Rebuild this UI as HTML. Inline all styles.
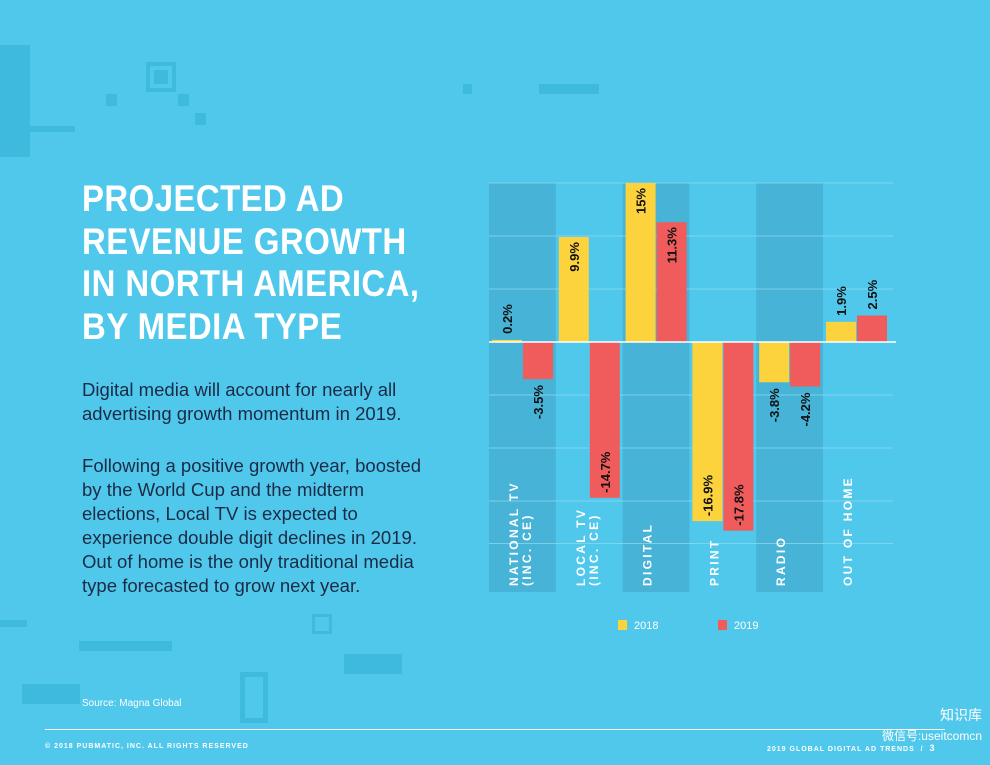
<!DOCTYPE html>
<html><head><meta charset="utf-8">
<style>
body{margin:0;width:990px;height:765px;overflow:hidden;background:#50c8ec;font-family:"Liberation Sans",sans-serif;position:relative}
.d{position:absolute;background:#3dbadd}
#title{position:absolute;left:82px;top:178px;color:#fff;font-weight:bold;font-size:37px;line-height:42.5px;letter-spacing:0.5px;transform:scaleX(0.89);transform-origin:left top;margin:0;white-space:nowrap}
.body{position:absolute;left:82px;color:#1b2b45;font-size:18px;line-height:24px;white-space:nowrap;transform:scaleX(1.03);transform-origin:left top}
</style></head><body>
<div class="d" style="left:0;top:45px;width:30px;height:112px"></div>
<div class="d" style="left:146px;top:62px;width:30px;height:30px;background:none;border:4px solid #3dbadd;box-sizing:border-box"></div>
<div class="d" style="left:154px;top:70px;width:14px;height:14px"></div>
<div class="d" style="left:30px;top:126px;width:45px;height:6px"></div>
<div class="d" style="left:106px;top:94px;width:11px;height:12px"></div>
<div class="d" style="left:178px;top:94px;width:11px;height:12px"></div>
<div class="d" style="left:195px;top:113px;width:11px;height:12px"></div>
<div class="d" style="left:463px;top:84px;width:9px;height:10px"></div>
<div class="d" style="left:539px;top:84px;width:60px;height:10px"></div>
<div class="d" style="left:0;top:620px;width:27px;height:7px"></div>
<div class="d" style="left:79px;top:641px;width:93px;height:10px"></div>
<div class="d" style="left:22px;top:684px;width:58px;height:20px"></div>
<div class="d" style="left:240px;top:672px;width:28px;height:51px;background:none;border:5px solid #3dbadd;box-sizing:border-box"></div>
<div class="d" style="left:344px;top:654px;width:58px;height:20px"></div>
<div class="d" style="left:312px;top:614px;width:20px;height:20px;background:none;border:3px solid #3dbadd;box-sizing:border-box"></div>

<h1 id="title">PROJECTED AD<br>REVENUE GROWTH<br>IN NORTH AMERICA,<br>BY MEDIA TYPE</h1>
<div class="body" style="top:378px">Digital media will account for nearly all<br>advertising growth momentum in 2019.</div>
<div class="body" style="top:454px">Following a positive growth year, boosted<br>by the World Cup and the midterm<br>elections, Local TV is expected to<br>experience double digit declines in 2019.<br>Out of home is the only traditional media<br>type forecasted to grow next year.</div>

<svg id="chart" style="position:absolute;left:0;top:0" width="990" height="765"></svg>

<div style="position:absolute;left:82px;top:698px;color:#fff;font-size:10px">Source: Magna Global</div>
<div style="position:absolute;left:45px;top:729px;width:900px;height:1px;background:#fff"></div>
<div style="position:absolute;left:45px;top:743px;color:#fff;font-size:7px;font-weight:bold;letter-spacing:1px">© 2018 PUBMATIC, INC. ALL RIGHTS RESERVED</div>
<div style="position:absolute;left:767px;top:743px;color:#fff;font-size:7px;font-weight:bold;letter-spacing:1px">2019 GLOBAL DIGITAL AD TRENDS &nbsp;/ &nbsp;<span style="font-size:9px">3</span></div>
<div style="position:absolute;left:876px;top:705px;color:#fff;font-size:14px;font-family:'Liberation Sans','Noto Sans CJK SC',sans-serif;text-align:right;width:106px;line-height:20px">知识库<br><span style="font-size:12px">微信号:useitcomcn</span></div>

<script>
const categories=["NATIONAL TV|(INC. CE)","LOCAL TV|(INC. CE)","DIGITAL","PRINT","RADIO","OUT OF HOME"];
const values2018=[0.2,9.9,15,-16.9,-3.8,1.9];
const values2019=[-3.5,-14.7,11.3,-17.8,-4.2,2.5];
const labels2018=["0.2%","9.9%","15%","-16.9%","-3.8%","1.9%"];
const labels2019=["-3.5%","-14.7%","11.3%","-17.8%","-4.2%","2.5%"];
const gridTicks=[15,10,5,0,-5,-10,-15,-19];
const svg=document.getElementById('chart');const NS='http://www.w3.org/2000/svg';
const x0=489,colW=66.8,zeroY=342,pxPer=10.6;
const y=v=>zeroY-v*pxPer;
function mk(t,a){const e=document.createElementNS(NS,t);for(const k in a)e.setAttribute(k,a[k]);svg.appendChild(e);return e;}
categories.forEach((c,i)=>{if(i%2===0){const r=mk('rect',{x:x0+i*colW,y:183,width:colW,height:409,fill:'#46b3d7'});

}});
gridTicks.forEach(t=>{const l=mk('line',{x1:x0,x2:893,y1:y(t),y2:y(t),stroke:'#8fd8ef','stroke-width':0.7});

});
categories.forEach((c,i)=>{
 const cx=x0+i*colW;
 [[values2018[i],labels2018[i],'#fdd33d',cx+3],[values2019[i],labels2019[i],'#f05c5c',cx+34]].forEach(([v,lab,col,bx],j)=>{
  const top=Math.min(y(v),zeroY),h=Math.abs(y(v)-zeroY);
  const r=mk('rect',{x:bx,y:top,width:30,height:Math.max(h,1),fill:col});
  
  
  const inside=h>60;
  const tx=bx+15+5;
  let ty,anchor;
  if(v>=0){ if(inside){ty=y(v)+5;anchor='end';} else {ty=y(v)-6;anchor='start';} }
  else { if(inside){ty=y(v)-5;anchor='start';} else {ty=y(v)+6;anchor='end';} }
  const t=mk('text',{x:tx,y:ty,fill:'#111','font-size':13,'font-weight':'bold','text-anchor':anchor,transform:`rotate(-90 ${tx} ${ty})`});
  t.textContent=lab;
  
  
 });
 const parts=c.split('|');
 parts.forEach((p,k)=>{const lx=cx+29+k*13,ly=586;
  const t=mk('text',{x:lx,y:ly,fill:'#fff','font-size':12,'font-weight':'bold','letter-spacing':2.3,transform:`rotate(-90 ${lx} ${ly})`});
  t.textContent=p;
  
  });
});
const ax=mk('line',{x1:x0,x2:896,y1:zeroY,y2:zeroY,stroke:'#fff','stroke-width':1.5});


[['2018','#fdd33d',618],['2019','#f05c5c',718]].forEach(([n,c,lx])=>{
 const r=mk('rect',{x:lx,y:620,width:9,height:10,fill:c});
 
 
 const t=mk('text',{x:lx+16,y:629,fill:'#fff','font-size':11});t.textContent=n;
 
 
});
</script>
</body></html>
